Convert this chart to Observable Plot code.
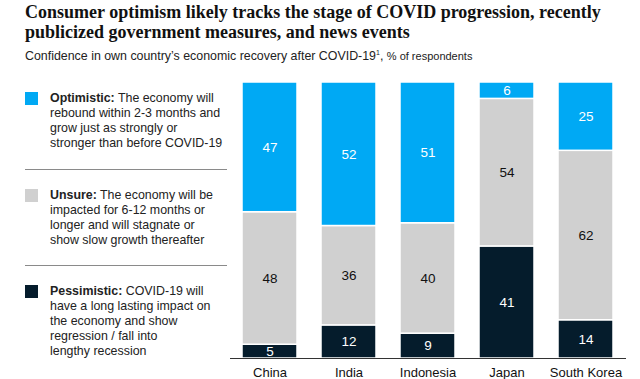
<!DOCTYPE html>
<html>
<head>
<meta charset="utf-8">
<script src="https://cdn.jsdelivr.net/npm/d3@7"></script>
<script src="https://cdn.jsdelivr.net/npm/@observablehq/plot@0.6"></script>
<style>
  body { margin: 0; background: #fff; width: 640px; height: 379px; overflow: hidden; position: relative; font-family: "Liberation Sans", Arial, sans-serif; }
  #title { position: absolute; left: 25px; top: 2px; font-family: "Liberation Serif", "Times New Roman", serif; font-weight: bold; font-size: 18px; line-height: 20px; color: #111; white-space: nowrap; }
  #subtitle { position: absolute; left: 25px; top: 49px; font-size: 12.4px; color: #222; white-space: nowrap; }
  #subtitle .small { font-size: 11px; }
  .sw { position: absolute; left: 25px; width: 13px; height: 13px; }
  .lt { position: absolute; left: 50px; font-size: 12.4px; line-height: 15px; color: #222; white-space: nowrap; }
  .sep { position: absolute; left: 25px; width: 202px; height: 0; border-top: 1px solid #8a8a8a; }
  #chart { position: absolute; left: 230px; top: 70px; }
</style>
</head>
<body>
<div id="title">Consumer optimism likely tracks the stage of COVID progression, recently<br>publicized government measures, and news events</div>
<div id="subtitle">Confidence in own country’s economic recovery after COVID-19<sup style="font-size:7px">1</sup>, <span class="small">% of respondents</span></div>
<div id="legend"></div>
<div id="chart"></div>
<script>
const countries = ["China", "India", "Indonesia", "Japan", "South Korea"];
const categories = ["Pessimistic", "Unsure", "Optimistic"];
const pessimistic = [5, 12, 9, 41, 14];
const unsure = [48, 36, 40, 54, 62];
const optimistic = [47, 52, 51, 6, 25];
const colors = ["#051c2c", "#d0d0d0", "#00a9f4"];
const labelColors = ["#ffffff", "#111111", "#ffffff"];
const legendHeads = ["Optimistic:", "Unsure:", "Pessimistic:"];
const legendLines = [
  [" The economy will", "rebound within 2-3 months and", "grow just as strongly or", "stronger than before COVID-19"],
  [" The economy will be", "impacted for 6-12 months or", "longer and will stagnate or", "show slow growth thereafter"],
  [" COVID-19 will", "have a long lasting impact on", "the economy and show", "regression / fall into", "lengthy recession"]
];

const series = [pessimistic, unsure, optimistic];
const data = [];
countries.forEach((c, i) => {
  categories.forEach((cat, j) => {
    data.push({country: c, cat, value: series[j][i]});
  });
});

// Legend (HTML)
const legend = document.getElementById("legend");
const swTops = [92, 189, 285];
const textTops = [91, 188, 284];
const order = [2, 1, 0];
order.forEach((j, k) => {
  const sw = document.createElement("div");
  sw.className = "sw";
  sw.style.top = swTops[k] + "px";
  sw.style.background = colors[j];
  legend.appendChild(sw);
  const t = document.createElement("div");
  t.className = "lt";
  t.style.top = textTops[k] + "px";
  legendLines[k].forEach((line, li) => {
    const row = document.createElement("div");
    if (li === 0) {
      const b = document.createElement("b");
      b.textContent = legendHeads[k];
      row.appendChild(b);
    }
    row.appendChild(document.createTextNode(line));
    t.appendChild(row);
  });
  legend.appendChild(t);
});
[169, 265].forEach(y => {
  const s = document.createElement("div");
  s.className = "sep";
  s.style.top = y + "px";
  legend.appendChild(s);
});

const chart = Plot.plot({
  width: 410,
  height: 309,
  marginTop: 12,
  marginBottom: 21,
  marginLeft: 0,
  marginRight: 14,
  style: {fontFamily: "Liberation Sans, Arial, sans-serif", fontSize: "13px", color: "#111", background: "transparent"},
  x: {domain: countries, paddingInner: 0.3, paddingOuter: 0.14, label: null, tickSize: 0, tickPadding: 9},
  y: {domain: [0, 1], axis: null},
  color: {domain: categories, range: colors},
  marks: [
    Plot.barY(data, Plot.stackY({offset: "normalize", order: null}, {x: "country", y: "value", z: "cat", fill: "cat", stroke: "white", strokeWidth: 1.5})),
    Plot.text(data, Plot.stackY({offset: "normalize", order: null}, {
      x: "country", y: "value", z: "cat", text: d => String(d.value),
      fill: d => labelColors[categories.indexOf(d.cat)], fontSize: 13.5
    })),
    Plot.ruleY([0], {stroke: "#333", strokeWidth: 1})
  ]
});
document.getElementById("chart").appendChild(chart);
</script>
</body>
</html>
